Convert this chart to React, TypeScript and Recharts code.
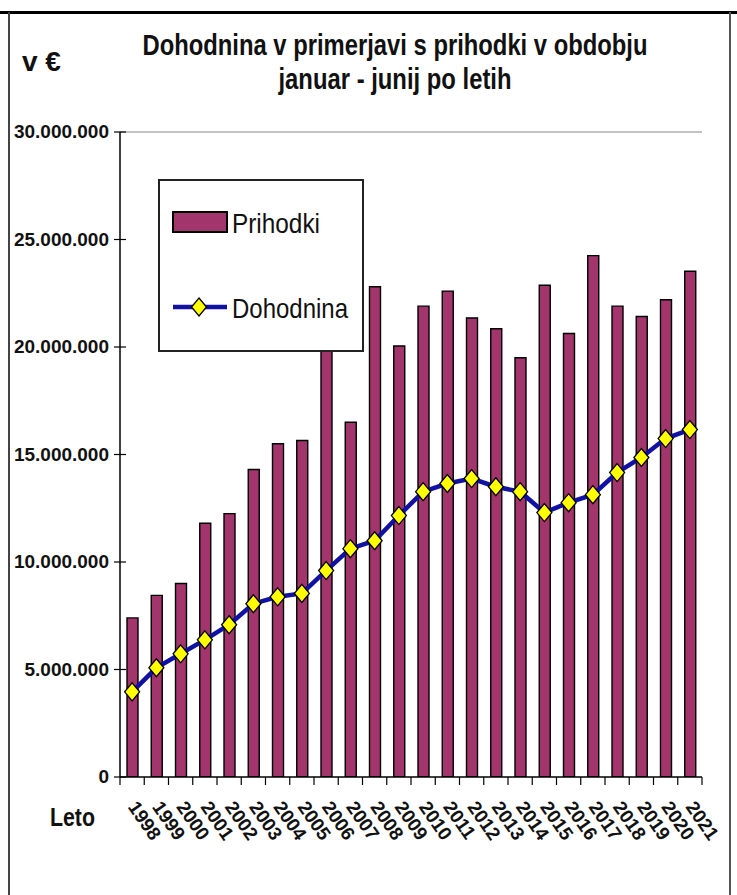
import {
  ComposedChart,
  Bar,
  Line,
  XAxis,
  YAxis,
  Legend,
  ReferenceLine,
} from 'recharts';

const YEARS = [
  '1998', '1999', '2000', '2001', '2002', '2003', '2004', '2005',
  '2006', '2007', '2008', '2009', '2010', '2011', '2012', '2013',
  '2014', '2015', '2016', '2017', '2018', '2019', '2020', '2021',
];

// Prihodki (bars), v €
const PRIHODKI = [
  7400000, 8450000, 9000000, 11800000, 12250000, 14300000, 15500000, 15650000,
  20800000, 16500000, 22800000, 20050000, 21900000, 22600000, 21350000, 20850000,
  19500000, 22870000, 20630000, 24250000, 21900000, 21420000, 22200000, 23520000,
];

// Dohodnina (line), v €
const DOHODNINA = [
  3960000, 5080000, 5730000, 6380000, 7080000, 8060000, 8380000, 8540000,
  9600000, 10620000, 10990000, 12160000, 13270000, 13650000, 13880000, 13500000,
  13270000, 12300000, 12760000, 13130000, 14160000, 14860000, 15740000, 16160000,
];

const Y_TICKS = [0, 5000000, 10000000, 15000000, 20000000, 25000000, 30000000];

const data = YEARS.map((leto, i) => ({
  leto,
  prihodki: PRIHODKI[i],
  dohodnina: DOHODNINA[i],
}));

const BAR_FILL = '#A2356C';
const LINE_BLUE = '#1212A2';
const SANS = "'Liberation Sans', Arial, sans-serif";

const W = 737;
const H = 895;
const PLOT_LEFT = 120;
const PLOT_RIGHT = 702;
const BAND = (PLOT_RIGHT - PLOT_LEFT) / YEARS.length;

const dots = (n: number) => String(n).replace(/\B(?=(\d{3})+(?!\d))/g, '.');

function diamondPath(cx: number, cy: number, hw: number, hh: number) {
  return `M${cx},${cy - hh} L${cx + hw},${cy} L${cx},${cy + hh} L${cx - hw},${cy} Z`;
}

function Diamond(props: any) {
  const { cx, cy, index } = props;
  if (cx == null || cy == null) return <g key={index} />;
  return (
    <path
      key={index}
      d={diamondPath(cx, cy, 7.5, 9)}
      fill="#FFFF00"
      stroke="#000"
      strokeWidth={1.3}
    />
  );
}

function YTick({ x, y, payload }: any) {
  return (
    <g>
      <line x1={x - 6} x2={x + 6} y1={y} y2={y} stroke="#000" strokeWidth={1.2} />
      <text
        x={x - 11}
        y={y}
        dy={6}
        textAnchor="end"
        fontFamily={SANS}
        fontWeight="bold"
        fontSize={19}
        fill="#111"
      >
        {dots(payload.value)}
      </text>
    </g>
  );
}

function XTick({ x, y, payload, index }: any) {
  const left = x - BAND / 2;
  const right = x + BAND / 2;
  return (
    <g>
      <line x1={left} x2={left} y1={y} y2={y + 8} stroke="#000" strokeWidth={1.2} />
      {index === YEARS.length - 1 && (
        <line x1={right} x2={right} y1={y} y2={y + 8} stroke="#000" strokeWidth={1.2} />
      )}
      <text
        transform={`translate(${x - 5},${y + 30}) rotate(55)`}
        textAnchor="start"
        fontFamily={SANS}
        fontWeight="bold"
        fontSize={19}
        fill="#111"
      >
        {payload.value}
      </text>
    </g>
  );
}

function LegendBox() {
  return (
    <svg width={206} height={173} style={{ display: 'block' }}>
      <rect x={1} y={1} width={204} height={171} fill="#fff" stroke="#222" strokeWidth={2} />
      <rect x={15} y={33} width={54} height={20} fill={BAR_FILL} stroke="#000" strokeWidth={2} />
      <text
        x={74}
        y={54}
        fontFamily={SANS}
        fontSize={28}
        textLength={88}
        lengthAdjust="spacingAndGlyphs"
        fill="#111"
      >
        Prihodki
      </text>
      <line x1={15} x2={69} y1={128} y2={128} stroke={LINE_BLUE} strokeWidth={4.5} />
      <path d={diamondPath(41, 128, 7.5, 9)} fill="#FFFF00" stroke="#000" strokeWidth={1.3} />
      <text
        x={74}
        y={139}
        fontFamily={SANS}
        fontSize={28}
        textLength={116}
        lengthAdjust="spacingAndGlyphs"
        fill="#111"
      >
        Dohodnina
      </text>
    </svg>
  );
}

export default function App() {
  return (
    <div
      style={{
        position: 'absolute',
        left: 0,
        top: 0,
        width: W,
        height: H,
        background: '#fff',
        overflow: 'hidden',
      }}
    >
      {/* frame */}
      <div style={{ position: 'absolute', left: 0, top: 11, width: W, height: 3, background: '#000' }} />
      <div style={{ position: 'absolute', left: 8, top: 12, width: 2, height: H - 12, background: '#444' }} />
      <div style={{ position: 'absolute', left: 729, top: 12, width: 2, height: H - 12, background: '#555' }} />

      {/* title, unit and axis caption */}
      <svg width={W} height={H} style={{ position: 'absolute', left: 0, top: 0 }}>
        <text x={22} y={71} fontFamily={SANS} fontWeight="bold" fontSize={28} fill="#111">
          v €
        </text>
        <text
          x={395}
          y={55}
          textAnchor="middle"
          fontFamily={SANS}
          fontWeight="bold"
          fontSize={30}
          textLength={505}
          lengthAdjust="spacingAndGlyphs"
          fill="#111"
        >
          Dohodnina v primerjavi s prihodki v obdobju
        </text>
        <text
          x={395}
          y={89}
          textAnchor="middle"
          fontFamily={SANS}
          fontWeight="bold"
          fontSize={30}
          textLength={233}
          lengthAdjust="spacingAndGlyphs"
          fill="#111"
        >
          januar - junij po letih
        </text>
        <text
          x={50}
          y={826}
          fontFamily={SANS}
          fontWeight="bold"
          fontSize={25}
          textLength={45}
          lengthAdjust="spacingAndGlyphs"
          fill="#111"
        >
          Leto
        </text>
      </svg>

      <div style={{ position: 'absolute', left: 0, top: 0 }}>
        <ComposedChart
          width={W}
          height={H}
          data={data}
          margin={{ top: 132, right: 35, bottom: 58, left: 10 }}
        >
          <XAxis
            dataKey="leto"
            height={60}
            interval={0}
            tickSize={0}
            tickMargin={0}
            tick={<XTick />}
            axisLine={{ stroke: '#000', strokeWidth: 1.5 }}
          />
          <YAxis
            width={110}
            domain={[0, 30000000]}
            ticks={Y_TICKS}
            tickSize={0}
            tickMargin={0}
            tick={<YTick />}
            axisLine={{ stroke: '#000', strokeWidth: 1.5 }}
            allowDataOverflow
          />
          <YAxis
            yAxisId="frame"
            orientation="right"
            width={0}
            domain={[0, 1]}
            tick={false}
            tickLine={false}
            axisLine={{ stroke: '#888', strokeWidth: 1.2 }}
          />
          <ReferenceLine y={30000000} stroke="#888" strokeWidth={1.2} />
          <Bar
            dataKey="prihodki"
            name="Prihodki"
            fill={BAR_FILL}
            stroke="#000"
            strokeWidth={1.4}
            barSize={11}
            isAnimationActive={false}
          />
          <Line
            dataKey="dohodnina"
            name="Dohodnina"
            type="linear"
            stroke={LINE_BLUE}
            strokeWidth={4.5}
            dot={(p: any) => <Diamond key={p.index} {...p} />}
            activeDot={false}
            isAnimationActive={false}
          />
          <Legend
            layout="vertical"
            align="center"
            verticalAlign="middle"
            wrapperStyle={{ left: 158, top: 179, width: 206, height: 173 }}
            content={() => <LegendBox />}
          />
        </ComposedChart>
      </div>
    </div>
  );
}
